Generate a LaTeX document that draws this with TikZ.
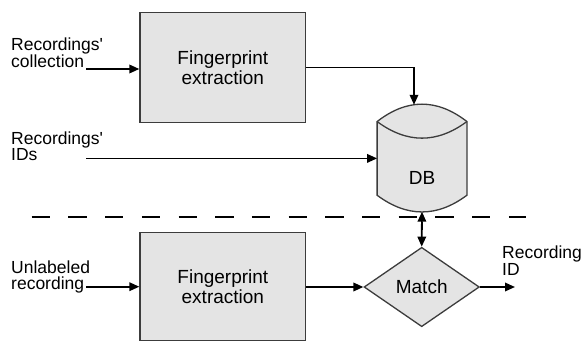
\documentclass[tikz,border=0pt]{standalone}
\usepackage{fontspec}
\setmainfont{Liberation Sans}[Ligatures=TeXOff]
\usetikzlibrary{positioning,arrows.meta,shapes.geometric,calc}

\definecolor{boxgray}{RGB}{228,228,228}
\definecolor{edgegray}{RGB}{60,60,60}

\tikzset{
  procbox/.style={draw=edgegray, line width=1.3pt, fill=boxgray, inner sep=0pt,
    minimum width=165.7pt, minimum height=109.6pt, align=center,
    font=\fontsize{19}{19.5}\selectfont},
  matchbox/.style={diamond, draw=edgegray, line width=1.3pt, fill=boxgray, inner sep=0pt,
    aspect=1.45, minimum width=115.3pt, minimum height=79.4pt,
    font=\fontsize{19}{19.5}\selectfont},
  dbbody/.style={inner sep=0pt, minimum width=89.4pt, minimum height=73.3pt},
  dbline/.style={draw=edgegray, line width=1.3pt},
  sidelabel/.style={anchor=north west, inner sep=0pt, align=left,
    font=\fontsize{17.5}{16.5}\selectfont},
  flow/.style={line width=1.8pt, -{Triangle[length=10pt,width=8.5pt]}},
  flowboth/.style={line width=1.8pt, {Triangle[length=10pt,width=8.5pt]}-{Triangle[length=10pt,width=8.5pt]}}
}

\begin{document}
\begin{tikzpicture}[x=1pt,y=-1pt]

    \useasboundingbox (0,0) rectangle (586,342);

    % processing boxes
    \node[procbox] (fe1) at (222.85,67.5) {Fingerprint\\extraction};
    \node[procbox, minimum height=108.4pt] (fe2) at (222.85,286.5) {Fingerprint\\extraction};
    \node[matchbox] (match) at (421.7,287) {Match};

    % database
    \node[dbbody] (db) at (422,158.4) {};
    \coordinate (captop) at ($(db.north)+(0,-34.8)$);
    \coordinate (capin) at ($(db.north)+(0,33.2)$);
    \coordinate (capbot) at ($(db.south)+(0,33.4)$);
    \filldraw[dbline, fill=boxgray] (db.north west)
        .. controls ($(db.north west)!0.6667!(captop)$) and ($(db.north east)!0.6667!(captop)$) .. (db.north east)
        -- (db.south east)
        .. controls ($(db.south east)!0.6667!(capbot)$) and ($(db.south west)!0.6667!(capbot)$) .. (db.south west) -- cycle;
    \draw[dbline] (db.north west)
        .. controls ($(db.north west)!0.6667!(capin)$) and ($(db.north east)!0.6667!(capin)$) .. (db.north east);
    \node[font=\fontsize{19}{19.5}\selectfont, inner sep=0pt] (dbname) at (422,178.4) {DB};

    % inputs and output
    \node[sidelabel] (coll) at (11,37.9) {Recordings'\\collection};
    \node[sidelabel] (ids) at (11,131.5) {Recordings'\\IDs};
    \node[sidelabel] (unl) at (11,260.5) {Unlabeled\\recording};
    \node[sidelabel] (recid) at (502,245.7) {Recording\\ID};

    \coordinate (collin) at (86,69);
    \coordinate (idsin) at (86,158.4);
    \coordinate (unlin) at (86,286.7);
    \coordinate (dbtop) at (414,104.8);
    \coordinate (dbbot) at (422,211.7);
    \coordinate (out) at (515,287);

    \draw[flow] (collin) -- (fe1.west|-collin);
    \draw[flow] (fe1.east) -| (dbtop);
    \draw[flow] (idsin) -- (db.west);
    \draw[flow] (unlin) -- (fe2.west|-unlin);
    \draw[flow] (fe2.east|-match) -- (match.west);
    \draw[flow] (match.east) -- (out);
    \draw[flowboth] (dbbot) -- (match.north);

    % separation between the two phases
    \coordinate (sepl) at (31.7,216.7);
    \coordinate (sepr) at (526,216.7);
    \draw[line width=2pt, dash pattern=on 18.3pt off 18.4pt] (sepl) -- (sepr);

\end{tikzpicture}
\end{document}
